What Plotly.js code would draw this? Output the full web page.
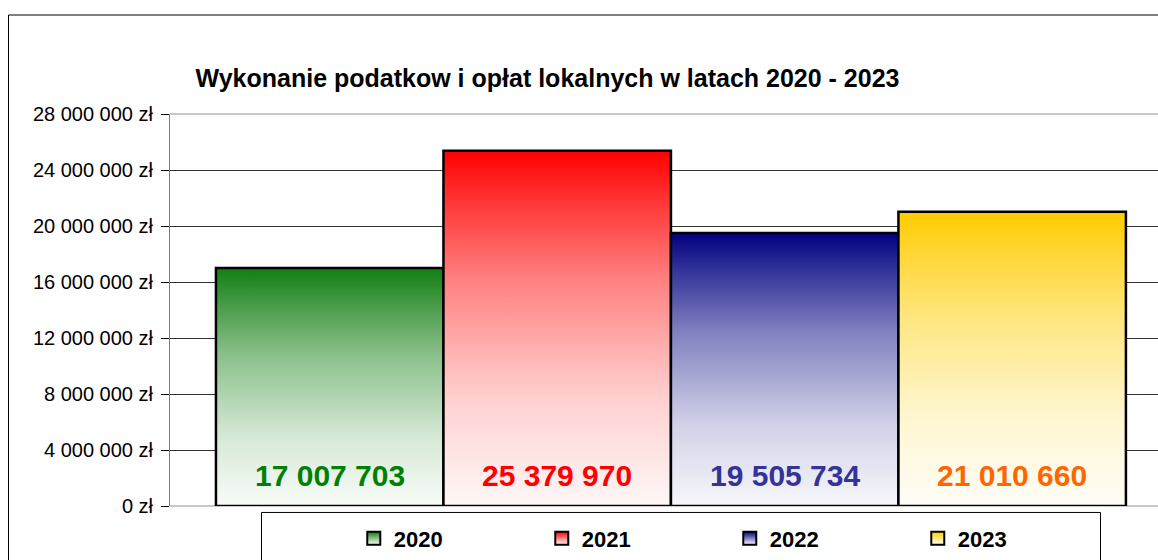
<!DOCTYPE html>
<html>
<head>
<meta charset="utf-8">
<script src="https://cdn.plot.ly/plotly-3.0.1.min.js"></script>
<style>
  html, body { margin: 0; padding: 0; background: #ffffff; }
  #chart { width: 1158px; height: 560px; }
</style>
</head>
<body>
<div id="chart"></div>
<script>
// ---- data ----
const years = ['2020', '2021', '2022', '2023'];
const values = [17007703, 25379970, 19505734, 21010660];
const tickValues = [0, 4000000, 8000000, 12000000, 16000000, 20000000, 24000000, 28000000];
const tickLabels = ['0 zł', '4 000 000 zł', '8 000 000 zł', '12 000 000 zł', '16 000 000 zł', '20 000 000 zł', '24 000 000 zł', '28 000 000 zł'];
const chartTitle = 'Wykonanie podatkow i opłat lokalnych w latach 2020 - 2023';

// ---- styles ----
const topColors = [[18, 126, 18], [255, 0, 0], [0, 0, 128], [255, 204, 0]];
const labelColors = ['#008000', '#ff0000', '#333399', '#ff6600'];

function hasFont(name) {
  const c = document.createElement('canvas').getContext('2d');
  const s = '28 000 000 zł Wykonanie 2020';
  c.font = '20px monospace';
  const a = c.measureText(s).width;
  c.font = "20px '" + name + "', monospace";
  const b = c.measureText(s).width;
  return Math.abs(a - b) > 0.5;
}
const narrow = hasFont('Liberation Sans Narrow');
const NARROW = narrow ? "'Liberation Sans Narrow', 'Liberation Sans', Arial, sans-serif" : "'Liberation Sans', Arial, sans-serif";
const REG = "'Liberation Sans', Arial, sans-serif";
const fs = narrow ? { tick: 24, label: 35, legend: 26 } : { tick: 20, label: 30, legend: 22 };

function fmt(v) { return String(v).replace(/\B(?=(\d{3})+(?!\d))/g, ' '); }
function mix(rgb, w) {
  return 'rgb(' + rgb.map(c => Math.round(c * (1 - w) + 255 * w)).join(',') + ')';
}
// gradient from top colour to almost white at the bottom
function scale(rgb) {
  return [
    [0, mix(rgb, 0.97)],
    [0.3, mix(rgb, 0.82)],
    [0.64, mix(rgb, 0.5)],
    [0.85, mix(rgb, 0.22)],
    [1, mix(rgb, 0)]
  ];
}

const traces = [];
years.forEach((yr, i) => {
  const v = values[i];
  traces.push({
    type: 'scatter',
    mode: 'lines',
    x: [i - 0.5, i - 0.5, i + 0.5, i + 0.5, i - 0.5],
    y: [0, v, v, 0, 0],
    fill: 'toself',
    fillgradient: { type: 'vertical', colorscale: scale(topColors[i]) },
    line: { color: '#000000', width: 2.5 },
    showlegend: false,
    hoverinfo: 'skip'
  });
});
years.forEach((yr, i) => {
  traces.push({
    type: 'scatter',
    mode: 'markers',
    x: [null], y: [null],
    name: yr,
    marker: {
      symbol: 'square', size: 13,
      color: 'rgb(' + topColors[i].join(',') + ')',
      gradient: { type: 'vertical', color: '#ffffff' },
      line: { color: '#000000', width: 2 }
    },
    showlegend: true
  });
});

const annotations = years.map((yr, i) => ({
  x: i, y: 0, xref: 'x', yref: 'y',
  text: fmt(values[i]),
  showarrow: false,
  yanchor: 'middle', xanchor: 'center',
  yshift: 31,
  font: { family: NARROW, size: fs.label, color: labelColors[i], weight: 'bold' }
}));

const layout = {
  width: 1158, height: 560,
  margin: { l: 170, r: 0, t: 114, b: 52, pad: 0 },
  paper_bgcolor: '#ffffff', plot_bgcolor: '#ffffff',
  font: { family: NARROW, color: '#000000' },
  title: {
    text: '<b>' + chartTitle + '</b>',
    font: { family: REG, size: 25, color: '#000000' },
    x: 547.5 / 1158, xanchor: 'center', xref: 'container',
    y: 1 - 78 / 560, yanchor: 'middle', yref: 'container'
  },
  xaxis: {
    range: [-0.702, 3.641],
    showticklabels: false, showgrid: false, zeroline: false, showline: false,
    ticks: '', fixedrange: true
  },
  yaxis: {
    range: [0, 28000000],
    tickvals: tickValues, ticktext: tickLabels,
    ticks: 'outside', ticklen: 8, tickwidth: 1, tickcolor: '#000000',
    ticklabelstandoff: 4,
    showline: true, linecolor: '#808080', linewidth: 1,
    showgrid: true, gridcolor: '#333333', gridwidth: 1,
    zeroline: true, zerolinecolor: '#c8c8c8', zerolinewidth: 2,
    tickfont: { family: NARROW, size: fs.tick, color: '#000000' },
    fixedrange: true
  },
  showlegend: true,
  legend: {
    orientation: 'h',
    x: 0.186, xanchor: 'left',
    y: -0.083, yanchor: 'middle',
    bgcolor: 'rgba(0,0,0,0)', borderwidth: 0,
    entrywidth: 143, entrywidthmode: 'pixels',
    itemwidth: 30,
    font: { family: NARROW, size: fs.legend, color: '#000000', weight: 'bold' }
  },
  shapes: [
    // outer chart frame
    { type: 'rect', xref: 'paper', yref: 'paper', layer: 'below',
      x0: (8.5 - 170) / 988, x1: 1.2, y0: (508 - 14.5) / 394, y1: -0.5,
      line: { color: '#000000', width: 1 }, fillcolor: 'rgba(0,0,0,0)' },
    // top border of plot area
    { type: 'line', xref: 'paper', yref: 'paper', layer: 'below',
      x0: 0, x1: 1, y0: 1, y1: 1,
      line: { color: '#c8c8c8', width: 2 } },
    // legend box
    { type: 'rect', xref: 'paper', yref: 'paper', layer: 'above',
      x0: (261.5 - 170) / 988, x1: (1100.5 - 170) / 988,
      y0: (508 - 514.5) / 394, y1: -0.5,
      line: { color: '#000000', width: 1 }, fillcolor: '#ffffff' }
  ],
  annotations: annotations
};

Plotly.newPlot('chart', traces, layout, { displayModeBar: false, staticPlot: true });
</script>
</body>
</html>
